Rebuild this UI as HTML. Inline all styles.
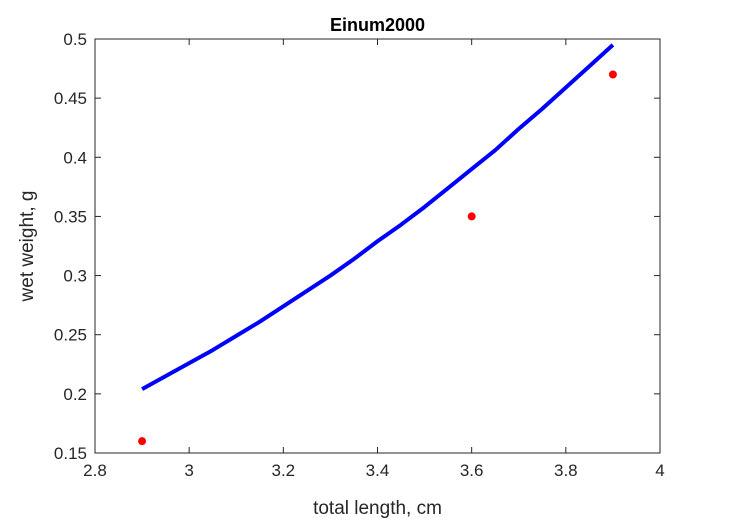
<!DOCTYPE html>
<html><head><meta charset="utf-8"><style>
html,body{margin:0;padding:0;background:#fff;}
svg{display:block;font-family:"Liberation Sans",Arial,sans-serif;}
</style></head><body>
<svg id="chart" width="729" height="521" viewBox="0 0 729 521"></svg>
<script>
const xTicks=[2.8,3,3.2,3.4,3.6,3.8,4];
const xTickLabels=["2.8","3","3.2","3.4","3.6","3.8","4"];
const yTicks=[0.15,0.2,0.25,0.3,0.35,0.4,0.45,0.5];
const yTickLabels=["0.15","0.2","0.25","0.3","0.35","0.4","0.45","0.5"];
const dataX=[2.9,3.6,3.9];
const dataY=[0.16,0.35,0.47];
const curveX=[2.9,2.95,3.0,3.05,3.1,3.15,3.2,3.25,3.3,3.35,3.4,3.45,3.5,3.55,3.6,3.65,3.7,3.75,3.8,3.85,3.9];
const curveY=[0.204,0.215,0.226,0.237,0.249,0.261,0.274,0.287,0.300,0.314,0.329,0.343,0.358,0.374,0.390,0.406,0.424,0.441,0.459,0.477,0.495];

const L=95,R=660,T=39,B=453;
const xMin=2.8,xMax=4,yMin=0.15,yMax=0.5;
function sx(v){return L+(v-xMin)/(xMax-xMin)*(R-L);}
function sy(v){return B-(v-yMin)/(yMax-yMin)*(B-T);}
const svg=document.getElementById('chart');
const NS='http://www.w3.org/2000/svg';
function mk(tag,attrs,parent){const e=document.createElementNS(NS,tag);for(const k in attrs)e.setAttribute(k,attrs[k]);(parent||svg).appendChild(e);return e;}

const box=mk('rect',{x:L,y:T,width:R-L,height:B-T,fill:'#fff',stroke:'#262626','stroke-width':1});



const xg=mk('g',{});


xTicks.forEach((t,i)=>{
  const x=sx(t);
  mk('line',{x1:x,x2:x,y1:B,y2:B-6,stroke:'#262626'},xg);
  mk('line',{x1:x,x2:x,y1:T,y2:T+6,stroke:'#262626'},xg);
  const tx=mk('text',{x:x,y:B+23,'text-anchor':'middle','font-size':17,fill:'#262626'},xg);
  tx.textContent=xTickLabels[i];
  
  
});
const yg=mk('g',{});


yTicks.forEach((t,i)=>{
  const y=sy(t);
  mk('line',{x1:L,x2:L+6,y1:y,y2:y,stroke:'#262626'},yg);
  mk('line',{x1:R,x2:R-6,y1:y,y2:y,stroke:'#262626'},yg);
  const tx=mk('text',{x:L-8,y:y+6,'text-anchor':'end','font-size':17,fill:'#262626'},yg);
  tx.textContent=yTickLabels[i];
  
  
});

const pts=curveX.map((x,i)=>sx(x)+','+sy(curveY[i])).join(' ');
const line=mk('polyline',{points:pts,fill:'none',stroke:'#0000ff','stroke-width':4,'stroke-linejoin':'round'});



dataX.forEach((x,i)=>{
  const c=mk('circle',{cx:sx(x),cy:sy(dataY[i]),r:4,fill:'#ff0000'});
  
  
});

const title=mk('text',{x:(L+R)/2,y:31,'text-anchor':'middle','font-size':18,'font-weight':'bold',fill:'#000'});
title.textContent='Einum2000';


const xl=mk('text',{x:(L+R)/2,y:514,'text-anchor':'middle','font-size':19,fill:'#262626'});
xl.textContent='total length, cm';


const yl=mk('text',{x:0,y:0,'text-anchor':'middle','font-size':19,fill:'#262626',transform:'translate(33,'+((T+B)/2)+') rotate(-90)'});
yl.textContent='wet weight, g';


</script>
</body></html>
